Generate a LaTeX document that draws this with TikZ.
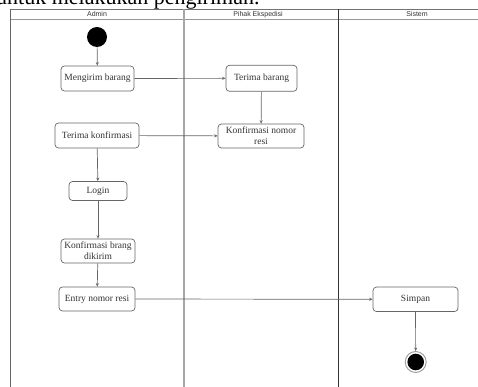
\documentclass[tikz,border=0pt]{standalone}
\usepackage{fontspec}
\setmainfont{Liberation Serif}
\newfontfamily\hdrfont{Liberation Sans}
\usetikzlibrary{arrows.meta}
\tikzset{
  act/.style={draw=black!60, line width=0.7pt, rounded corners=3.5pt, fill=white, text=black!80,
    align=center, inner sep=0pt, font=\fontsize{9.5}{11}\selectfont},
  flow/.style={draw=black!60, line width=0.7pt, -{Stealth[length=3.5pt,width=3pt]}},
  lane/.style={line width=0.7pt},
  hdr/.style={font=\hdrfont\fontsize{7}{8}\selectfont, inner sep=0pt, text=black!80}
}
\begin{document}
\begin{tikzpicture}[x=1pt,y=-1pt]
\useasboundingbox (0,0) rectangle (478,387);
% cropped caption text
\node[anchor=base west, inner sep=0pt, font=\fontsize{22}{24}\selectfont] (cap) at (-4,5) {untuk melakukan pengiriman.};
% swimlanes
\draw[lane, draw=black!55] (10.7,9) -- (478,9);
\draw[lane, draw=black!40, line width=1pt] (10.7,19.5) -- (478,19.5);
\draw[lane, draw=black!60] (10.7,9) -- (10.7,387);
\draw[lane, draw=black!35, line width=1.1pt] (184,9) -- (184,387);
\draw[lane, draw=black!80] (338,9) -- (338,387);
\node[hdr] (h1) at (97,14.3) {Admin};
\node[hdr] (h2) at (258,14.3) {Pihak Ekspedisi};
\node[hdr] (h3) at (417,14.3) {Sistem};
% nodes
\node[circle, fill=black, minimum size=20pt, inner sep=0pt] (start) at (97,37) {};
\node[act, minimum width=73pt, minimum height=25pt] (kirim) at (97.5,78.5) {Mengirim barang};
\node[act, minimum width=84pt, minimum height=25pt] (tkonf) at (97,135.5) {Terima konfirmasi};
\node[act, minimum width=71pt, minimum height=26pt] (tbar) at (261.5,78.3) {Terima barang};
\node[act, minimum width=86pt, minimum height=24pt] (kresi) at (261,136) {Konfirmasi nomor\\resi};
\node[act, minimum width=58pt, minimum height=19pt] (login) at (98,191) {Login};
\node[act, minimum width=74pt, minimum height=24pt] (kbrang) at (98,251) {Konfirmasi brang\\dikirim};
\node[act, minimum width=76pt, minimum height=24pt] (entry) at (97,299) {Entry nomor resi};
\node[act, minimum width=85pt, minimum height=24.5pt] (simpan) at (415.5,299.3) {Simpan};
\node[circle, draw=black!40, line width=0.9pt, fill=white, minimum size=21pt, inner sep=0pt] (end) at (415.7,362) {};
\fill[black] (end.center) circle (8.3);
% flows
\draw[flow] (start) -- (kirim);
\draw[flow] (kirim) -- (tbar);
\draw[flow] (tbar) -- (kresi);
\draw[flow] (tkonf) -- (kresi);
\draw[flow] (tkonf) -- (login);
\draw[flow] (login) -- (kbrang);
\draw[flow] (kbrang) -- (entry);
\draw[flow] (entry) -- (simpan);
\draw[flow] (simpan) -- (end);
\end{tikzpicture}
\end{document}
